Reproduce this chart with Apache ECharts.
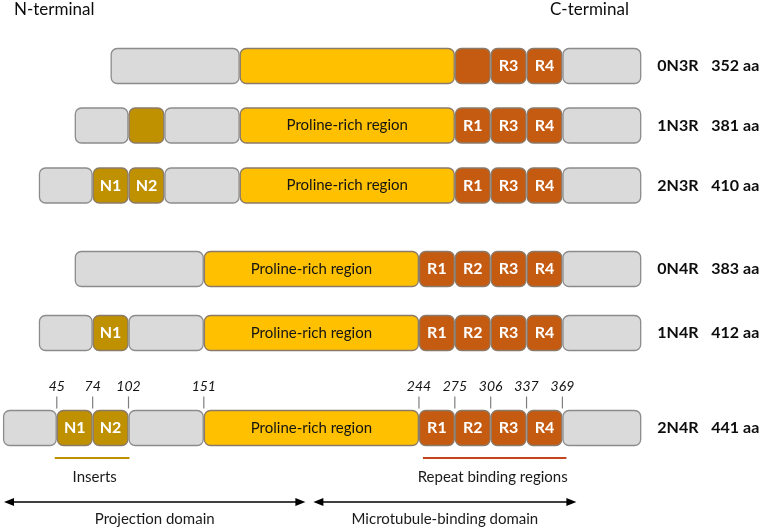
<!DOCTYPE html>
<html>
<head>
<meta charset="utf-8">
<script src="https://cdn.jsdelivr.net/npm/echarts@6/dist/echarts.min.js"></script>
<style>
  html, body { margin: 0; background: #fff; }
  #main { width: 765px; height: 529px; }
</style>
</head>
<body>
<div id="main"></div>
<script>
// tau isoforms, top to bottom
const isoforms = ['0N3R', '1N3R', '2N3R', '0N4R', '1N4R', '2N4R'];
const isoformLengths = ['352 aa', '381 aa', '410 aa', '383 aa', '412 aa', '441 aa'];

// domains N- to C-terminal: [kind, span (repeat-box units), label]
const domains0N3R = [['gray', 3.6, ''], ['proline', 6, ''], ['repeat', 1, ''], ['repeat', 1, 'R3'], ['repeat', 1, 'R4'], ['gray', 2.2, '']];
const domains1N3R = [['gray', 1.5, ''], ['insert', 1, ''], ['gray', 2.1, ''], ['proline', 6, 'Proline-rich region'], ['repeat', 1, 'R1'], ['repeat', 1, 'R3'], ['repeat', 1, 'R4'], ['gray', 2.2, '']];
const domains2N3R = [['gray', 1.5, ''], ['insert', 1, 'N1'], ['insert', 1, 'N2'], ['gray', 2.1, ''], ['proline', 6, 'Proline-rich region'], ['repeat', 1, 'R1'], ['repeat', 1, 'R3'], ['repeat', 1, 'R4'], ['gray', 2.2, '']];
const domains0N4R = [['gray', 3.6, ''], ['proline', 6, 'Proline-rich region'], ['repeat', 1, 'R1'], ['repeat', 1, 'R2'], ['repeat', 1, 'R3'], ['repeat', 1, 'R4'], ['gray', 2.2, '']];
const domains1N4R = [['gray', 1.5, ''], ['insert', 1, 'N1'], ['gray', 2.1, ''], ['proline', 6, 'Proline-rich region'], ['repeat', 1, 'R1'], ['repeat', 1, 'R2'], ['repeat', 1, 'R3'], ['repeat', 1, 'R4'], ['gray', 2.2, '']];
const domains2N4R = [['gray', 1.5, ''], ['insert', 1, 'N1'], ['insert', 1, 'N2'], ['gray', 2.1, ''], ['proline', 6, 'Proline-rich region'], ['repeat', 1, 'R1'], ['repeat', 1, 'R2'], ['repeat', 1, 'R3'], ['repeat', 1, 'R4'], ['gray', 2.2, '']];
const domainRows = [domains0N3R, domains1N3R, domains2N3R, domains0N4R, domains1N4R, domains2N4R];

// residue numbers at the domain boundaries of the longest isoform (2N4R)
const boundaryResidues = ['45', '74', '102', '151', '244', '275', '306', '337', '369'];

// layout
const ROW_Y = [66, 125.5, 185.5, 269, 333, 428];
const ROW_END = 17.8;
const BOX_H = 35;
const FONT = 'Lato, "Open Sans", sans-serif';

const kindColor = { gray: '#DADADA', insert: '#BF9000', proline: '#FFC000', repeat: '#C55A11' };

// build segments from the domain spans, all rows end at the C-terminus
const segData = [];
const segMeta = [];
const bounds = []; // boundary x per row
domainRows.forEach(function (row, i) {
  const total = row.reduce(function (s, d) { return s + d[1]; }, 0);
  let x = ROW_END - total;
  const b = [x];
  row.forEach(function (d) {
    segData.push([x, x + d[1], ROW_Y[i]]);
    segMeta.push({ kind: d[0], label: d[2] });
    x += d[1];
    b.push(x);
  });
  bounds.push(b);
});

const last = bounds[bounds.length - 1];
const lastY = ROW_Y[ROW_Y.length - 1];
const tickData = boundaryResidues.map(function (r, k) { return [last[k + 1], lastY]; });
// inserts N1..N2, repeats R1..R4, domains split inside the proline-rich region
const bracketData = [[last[1], last[3], lastY], [last[5], last[9], lastY]];
const bracketMeta = [
  { text: 'Inserts', color: '#BF9000', dx0: -2, dx1: 1 },
  { text: 'Repeat binding regions', color: '#C4461C', dx0: 4, dx1: 4 }
];
const prrMid = (last[4] + last[5]) / 2;
const arrowData = [[last[0], prrMid, lastY], [prrMid, last[9], lastY]];
const arrowMeta = [
  { text: 'Projection domain', dx0: 1, dx1: -6 },
  { text: 'Microtubule-binding domain', dx0: 2, dx1: 14 }
];
const nameData = ROW_Y.map(function (y) { return [ROW_END, y]; });

function renderSegment(params, api) {
  const m = segMeta[params.dataIndex];
  const p0 = api.coord([api.value(0), api.value(2)]);
  const p1 = api.coord([api.value(1), api.value(2)]);
  const isGray = m.kind === 'gray';
  const isPrr = m.kind === 'proline';
  return {
    type: 'rect',
    shape: { x: p0[0] + 0.6, y: p0[1] - BOX_H / 2, width: p1[0] - p0[0] - 1.2, height: BOX_H, r: 6 },
    style: { fill: kindColor[m.kind], stroke: isGray ? '#8C8C8C' : '#8A7A6A', lineWidth: 1.3 },
    textContent: m.label ? {
      style: {
        text: m.label,
        fill: isPrr ? '#141414' : '#ffffff',
        font: (isPrr ? 'normal 15px ' : 'bold 16px ') + FONT
      }
    } : undefined,
    textConfig: { position: 'inside' }
  };
}

function renderName(params, api) {
  const p = api.coord([api.value(0), api.value(1)]);
  const i = params.dataIndex;
  return {
    type: 'group',
    children: [
      { type: 'text', x: p[0] + 16, y: p[1], style: { text: isoforms[i], font: 'bold 16px ' + FONT, fill: '#0d0d0d', verticalAlign: 'middle' } },
      { type: 'text', x: p[0] + 70, y: p[1], style: { text: isoformLengths[i], font: 'bold 16px ' + FONT, fill: '#0d0d0d', verticalAlign: 'middle' } }
    ]
  };
}

function renderTick(params, api) {
  const p = api.coord([api.value(0), api.value(1)]);
  const top = p[1] - BOX_H / 2;
  return {
    type: 'group',
    children: [
      { type: 'line', shape: { x1: p[0], y1: top - 14, x2: p[0], y2: top - 2 }, style: { stroke: '#7F7F7F', lineWidth: 1.2 } },
      { type: 'text', x: p[0], y: top - 24, style: { text: boundaryResidues[params.dataIndex], font: 'italic 14px ' + FONT, fill: '#141414', align: 'center', verticalAlign: 'middle' } }
    ]
  };
}

function renderBracket(params, api) {
  const m = bracketMeta[params.dataIndex];
  const p0 = api.coord([api.value(0), api.value(2)]);
  const p1 = api.coord([api.value(1), api.value(2)]);
  const y = p0[1] + 30;
  return {
    type: 'group',
    children: [
      { type: 'line', shape: { x1: p0[0] + m.dx0, y1: y, x2: p1[0] + m.dx1, y2: y }, style: { stroke: m.color, lineWidth: 2 } },
      { type: 'text', x: (p0[0] + p1[0]) / 2 + 2, y: y + 19, style: { text: m.text, font: '15px ' + FONT, fill: '#1a1a1a', align: 'center', verticalAlign: 'middle' } }
    ]
  };
}

function renderArrow(params, api) {
  const m = arrowMeta[params.dataIndex];
  const p0 = api.coord([api.value(0), api.value(2)]);
  const p1 = api.coord([api.value(1), api.value(2)]);
  const y = p0[1] + 74;
  const x0 = p0[0] + m.dx0;
  const x1 = p1[0] + m.dx1;
  return {
    type: 'group',
    children: [
      { type: 'line', shape: { x1: x0 + 6, y1: y, x2: x1 - 6, y2: y }, style: { stroke: '#000', lineWidth: 1.6 } },
      { type: 'polygon', shape: { points: [[x0, y], [x0 + 10, y - 4], [x0 + 10, y + 4]] }, style: { fill: '#000' } },
      { type: 'polygon', shape: { points: [[x1, y], [x1 - 10, y - 4], [x1 - 10, y + 4]] }, style: { fill: '#000' } },
      { type: 'text', x: (x0 + x1) / 2, y: y + 17, style: { text: m.text, font: '15px ' + FONT, fill: '#1a1a1a', align: 'center', verticalAlign: 'middle' } }
    ]
  };
}

const option = {
  animation: false,
  grid: { left: 3, right: 0, top: 0, bottom: 0 },
  xAxis: { type: 'value', min: 0, max: 21.25, show: false },
  yAxis: { type: 'value', min: 0, max: 529, inverse: true, show: false },
  graphic: [
    { type: 'text', left: 14, top: 1, style: { text: 'N-terminal', font: '17px ' + FONT, fill: '#0d0d0d' } },
    { type: 'text', left: 550, top: 1, style: { text: 'C-terminal', font: '17px ' + FONT, fill: '#0d0d0d' } }
  ],
  series: [
    { type: 'custom', name: 'domains', renderItem: renderSegment, data: segData, clip: false },
    { type: 'custom', name: 'isoforms', renderItem: renderName, data: nameData, clip: false },
    { type: 'custom', name: 'boundaries', renderItem: renderTick, data: tickData, clip: false },
    { type: 'custom', name: 'regions', renderItem: renderBracket, data: bracketData, clip: false },
    { type: 'custom', name: 'domainsSpan', renderItem: renderArrow, data: arrowData, clip: false }
  ]
};

const chart = echarts.init(document.getElementById('main'));
chart.setOption(option);
</script>
</body>
</html>
